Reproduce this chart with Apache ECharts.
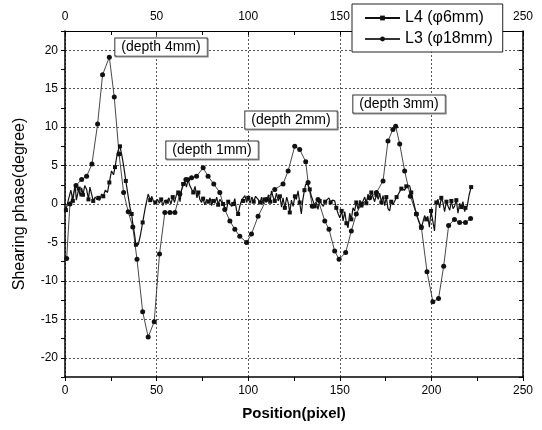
<!DOCTYPE html>
<html>
<head>
<meta charset="utf-8">
<script src="https://cdn.jsdelivr.net/npm/echarts@6/dist/echarts.min.js"></script>
<style>
html, body { margin: 0; padding: 0; background: #fff; }
#chart { width: 542px; height: 430px; }
</style>
</head>
<body>
<div id="chart"></div>
<script>
// L4 (phi 6mm) - noisy trace with square markers
var l4Pos = [0.5, 1.8, 3.2, 4.3, 5.5, 6.2, 7.5, 8.3, 9.1, 9.8, 10.8, 11.8, 12.8, 13.6, 14.5, 15.4, 16.5, 17.4, 18.2, 19,
    20, 20.9, 22, 23.2, 24.2, 25.4, 26.5, 27.3, 28.5, 29.3, 30, 30.9, 32, 33.2, 34.5, 35.5, 36.4, 36.9, 38, 38.7,
    40, 41.2, 42.4, 43.8, 45.4, 46.5, 47.4, 48.2, 49.3, 50.5, 51.5, 52.5, 53.4, 54.5, 55.6, 56.7, 57.8, 58.8, 59.8, 60.8,
    61.8, 62.8, 63.6, 64.5, 65.4, 66.3, 67.2, 68.1, 69.1, 70, 71, 72, 72.8, 73.6, 74.5, 75.4, 76.3, 77.3, 78.2, 79.2,
    80, 80.9, 81.8, 82.8, 83.6, 84.5, 85.4, 86.3, 87.2, 88.2, 89.1, 90, 91, 91.8, 92.7, 93.6, 94.5, 95.5, 96.4, 97.2,
    98.2, 99.1, 100, 101, 102, 103, 104, 105.4, 106.5, 107.3, 108.1, 109, 110, 111, 112, 112.7, 113.6, 114.5, 115.4, 116.4,
    117.3, 118.2, 119, 120, 121, 121.8, 122.7, 123.6, 124.5, 125.5, 126.3, 127.2, 128.1, 129, 129.8, 130.7, 131.4, 132.5, 133.6, 134.5,
    135.4, 136.3, 137.2, 138.1, 139, 140, 141, 142, 143, 144.1, 145, 146, 147.2, 148.1, 149, 150, 151, 151.8, 152.7, 153.6,
    154.5, 155.4, 156.3, 157.2, 158.1, 159, 160, 161, 161.8, 162.7, 163.6, 164.5, 165.4, 166.3, 167.2, 168, 169, 170, 171, 171.8,
    172.7, 173.6, 174.5, 175.4, 176.3, 177.2, 178.1, 179, 180, 181, 182, 182.7, 183.6, 184.5, 185.4, 186.3, 187.2, 188.1, 189, 190,
    190.9, 191.8, 192.7, 193.6, 194.5, 195.4, 196.3, 197.2, 198, 198.9, 199.8, 200.8, 201.7, 202.7, 203.6, 204.5, 205.4, 206.3, 207.2, 208.2,
    209.1, 210, 210.9, 211.8, 212.6, 213.6, 214.5, 215.4, 216.3, 217.2, 218.2, 218.6, 219.6, 220.6, 221.7];
var l4Phase = [-0.8, 0.5, 1.8, 0.4, 2.6, 0.5, 2.0, 1.0, 2.1, 1.2, 2.4, 1.9, 0.6, 2.2, 2.3, 0.4, 0.9, 0.6, 0.8, 0.5,
    1.3, 1.0, 1.8, 1.5, 2.8, 4.3, 3.8, 4.8, 6.5, 7.2, 7.5, 6.5, 5.0, 3.0, 1.0, -0.5, -1.3, -2.4, -4.0, -5.3,
    -5.3, -4.0, -2.4, -0.5, 1.3, 0.5, 1.0, 0.4, 0.2, 0.6, 0.1, 0.6, -0.2, 0.5, 0.3, 0.8, 0.0, 0.9, 0.2, 1.2,
    1.5, 0.3, 1.8, 2.6, 3.0, 2.2, 3.2, 2.4, 2.6, 1.5, 2.3, 0.8, 1.5, 0.6, 0.2, 0.7, -0.1, 0.6, 0.3, 0.8,
    -0.2, 0.4, 0.1, 0.9, -0.1, 0.6, 0.3, 0.0, -0.4, -0.7, 0.3, 0.3, -0.3, 0.0, 0.7, -0.8, -1.3, -0.2, 0.5, 0.4,
    1.1, 0.2, 0.8, 0.1, 0.9, 0.3, 1.0, 0.6, 0.2, 0.9, 0.0, 0.6, 0.2, 1.2, 0.3, 1.7, 0.9, 0.4, 1.4, 0.4,
    1.0, -0.4, 0.8, -0.5, 0.9, 0.2, -1.1, 0.5, -0.3, 1.0, 0.6, 1.7, 0.2, -1.3, 0.5, 1.8, 2.6, 2.5, 1.9, 1.0,
    0.4, -0.3, 0.2, -0.7, 0.4, 0.0, -0.3, 0.3, 0.4, 0.8, 0.2, 0.5, 0.4, -0.5, -1.2, -1.8, -0.9, -2.2, -1.0, -2.5,
    -3.1, -1.2, -2.0, -0.5, -0.9, 0.2, -0.7, 0.5, -0.2, 0.4, 0.9, 0.1, 1.3, 0.5, 1.5, 1.0, 0.3, 1.2, 0.6, 1.4,
    0.2, 1.1, -0.2, 0.9, -0.6, -0.9, 0.3, -0.1, 0.4, 0.9, 1.3, 1.5, 2.0, 2.2, 1.8, 2.3, 2.1, 2.4, 1.5, 0.5,
    -0.4, -1.3, -2.0, -2.6, -3.1, -3.3, -1.5, -2.0, -1.6, -3.0, -0.9, -0.9, -3.5, 0.2, 0.6, -0.5, 0.8, 0.2, -1.0, 0.3,
    -0.3, -0.8, 0.4, -0.6, -0.3, 0.5, -1.2, 0.1, -0.4, 0.3, -1.0, -0.5, -0.2, 1.2, 2.2];

// L3 (phi 18mm) - large swings with round markers
var l3Pos = [0.9, 2.7, 6, 9.1, 11.8, 14.7, 17.8, 20.5, 24.2, 26.9, 29.5, 32, 34.5, 37, 39.3, 42.4, 45.4, 48.7, 51.6, 54.5,
    57.3, 60, 62.7, 66, 69.1, 71.8, 75.4, 78.1, 81.2, 84.5, 87.2, 90, 92.7, 95.4, 99.1, 101.8, 105.4, 110, 114.5, 119,
    121.8, 125.4, 128.1, 131.4, 132.7, 135, 138.1, 141.8, 144.1, 147.2, 149.6, 153.2, 156.3, 159, 161.8, 166.3, 170, 173.6, 176.3, 179,
    180.5, 182.7, 185.4, 188.5, 191.8, 194.5, 197.6, 200.8, 203.9, 206.7, 209.4, 212.6, 215.4, 218.6, 221.4];
var l3Phase = [-7.1, 0, 2.4, 3.2, 3.6, 5.2, 10.4, 16.8, 19.1, 13.9, 6.5, 1.5, -1.0, -3.0, -7.2, -14.0, -17.3, -15.3, -6.5, -1.1,
    -1.1, -1.1, 1.3, 3.2, 3.4, 3.6, 4.7, 3.6, 2.6, 1.5, -0.7, -2.2, -3.3, -4.2, -5.0, -3.9, -1.6, 0.6, 1.9, 2.6,
    4.3, 7.5, 7.1, 5.5, 2.8, -0.3, 0.6, -2.2, -3.3, -6.1, -7.2, -6.3, -3.5, -1.3, 0.0, 0.8, 1.5, 3.0, 8.2, 9.7,
    10.1, 7.8, 4.3, 1.0, -1.3, -3.0, -8.8, -12.7, -12.3, -8.1, -2.8, -2.0, -2.4, -2.4, -1.9];

var seriesNames = ['L4 (\u03c66mm)', 'L3 (\u03c618mm)'];
var xLabelValues = [0, 50, 100, 150, 200, 250];
var yLabelValues = [-20, -15, -10, -5, 0, 5, 10, 15, 20];
var depthLabels = ['(depth 4mm)', '(depth 1mm)', '(depth 2mm)', '(depth 3mm)'];

function pairs(xs, ys) {
    return xs.map(function (x, i) { return [x, ys[i]]; });
}

var font = 'Liberation Sans, Arial, sans-serif';
var chart = echarts.init(document.getElementById('chart'));

var boxPos = [[161, 47], [212, 150], [291, 120], [399, 104]];
var graphics = depthLabels.map(function (t, i) {
    return {
        type: 'text',
        x: boxPos[i][0],
        y: boxPos[i][1],
        z: 10,
        style: {
            text: t,
            font: '14px ' + font,
            fill: '#000',
            align: 'center',
            verticalAlign: 'middle',
            backgroundColor: '#fff',
            borderColor: '#333',
            borderWidth: 1,
            padding: [2, 6, 1, 6],
            shadowColor: '#888',
            shadowOffsetX: 1,
            shadowOffsetY: 1
        }
    };
});

var option = {
    animation: false,
    backgroundColor: '#fff',
    textStyle: { fontFamily: font },
    grid: { left: 65, right: 19, top: 31, bottom: 53 },
    legend: {
        data: seriesNames,
        orient: 'vertical',
        left: 352,
        top: 4,
        backgroundColor: '#fff',
        borderColor: '#222',
        borderWidth: 1,
        padding: [6, 10, 5, 12],
        itemGap: 5,
        itemWidth: 35,
        itemHeight: 6,
        textStyle: { fontSize: 16, color: '#000', fontFamily: font }
    },
    xAxis: [{
        type: 'value', position: 'bottom', min: 0, max: 250, interval: 25,
        axisLine: { onZero: false, lineStyle: { color: '#000', width: 1.5 } },
        axisTick: { length: 4, lineStyle: { color: '#000' } },
        axisLabel: {
            color: '#000', fontSize: 12, margin: 8,
            formatter: function (v) { return xLabelValues.indexOf(v) >= 0 ? String(v) : ''; }
        },
        splitLine: { show: true, lineStyle: { color: ['#555', 'transparent'], width: 1, type: [2, 2] } },
        name: 'Position(pixel)', nameLocation: 'middle', nameGap: 29,
        nameTextStyle: { fontSize: 15, fontWeight: 'bold', color: '#000' }
    }, {
        type: 'value', position: 'top', min: 0, max: 250, interval: 25,
        axisLine: { onZero: false, lineStyle: { color: '#000', width: 1.2 } },
        axisTick: { inside: true, length: 4, lineStyle: { color: '#000' } },
        axisLabel: {
            color: '#000', fontSize: 12, margin: 8,
            formatter: function (v) { return xLabelValues.indexOf(v) >= 0 ? String(v) : ''; }
        },
        splitLine: { show: false }
    }],
    yAxis: [{
        type: 'value', min: -22.5, max: 22.5, interval: 2.5,
        axisLine: { show: true, onZero: false, lineStyle: { color: '#000', width: 1.5 } },
        axisTick: { show: true, length: 4, lineStyle: { color: '#000' } },
        axisLabel: {
            color: '#000', fontSize: 12, margin: 7,
            formatter: function (v) { return yLabelValues.indexOf(v) >= 0 ? String(v) : ''; }
        },
        splitLine: { show: true, lineStyle: { color: ['transparent', '#555'], width: 1, type: [2, 2] } },
        name: 'Shearing phase(degree)', nameLocation: 'middle', nameGap: 37,
        nameTextStyle: { fontSize: 16, color: '#000' }
    }, {
        type: 'value', position: 'right', min: -22.5, max: 22.5, interval: 2.5,
        axisLine: { show: true, onZero: false, lineStyle: { color: '#000', width: 1.5 } },
        axisTick: { show: true, inside: true, length: 4, lineStyle: { color: '#000' } },
        axisLabel: { show: false },
        splitLine: { show: false }
    }],
    series: [{
        name: seriesNames[0],
        type: 'line',
        data: pairs(l4Pos, l4Phase),
        symbol: 'rect',
        showAllSymbol: true,
        symbolSize: function (v, p) { return p.dataIndex % 3 === 0 ? 4 : 0; },
        lineStyle: { color: '#111', width: 1.2 },
        itemStyle: { color: '#111' },
        z: 3
    }, {
        name: seriesNames[1],
        type: 'line',
        data: pairs(l3Pos, l3Phase),
        symbol: 'circle',
        showAllSymbol: true,
        symbolSize: 5,
        lineStyle: { color: '#333', width: 0.9 },
        itemStyle: { color: '#111' },
        z: 2
    }],
    graphic: graphics
};

chart.setOption(option);
</script>
</body>
</html>
